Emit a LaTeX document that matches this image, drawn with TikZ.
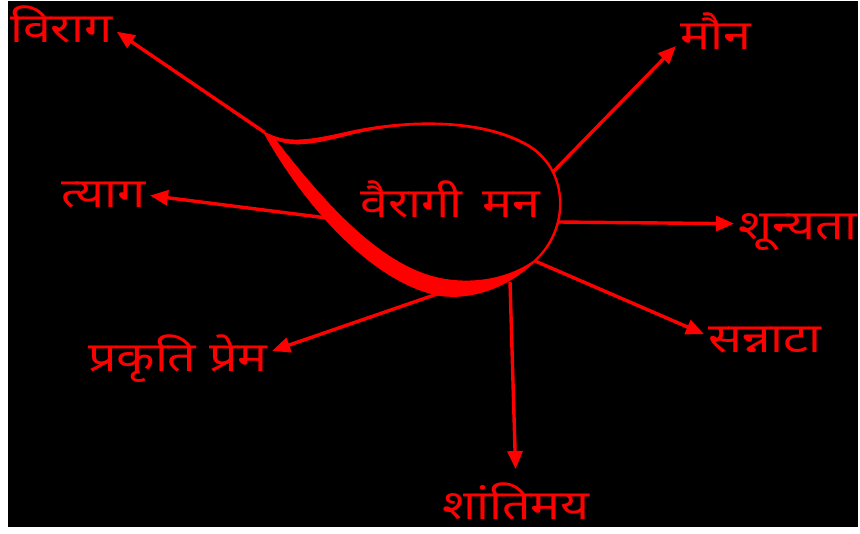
\documentclass[tikz,border=0pt]{standalone}
\usepackage{fontspec}
\newfontfamily\hindi[Script=Devanagari, FakeStretch=1.22]{Noto Sans}
\usetikzlibrary{arrows.meta}

\begin{document}
\begin{tikzpicture}[x=1pt, y=-1pt, >={Triangle[length=18pt,width=15pt]},
  lbl/.style={text=red, font=\hindi\fontsize{41}{44}\selectfont, inner sep=4pt, anchor=base west},
  edge/.style={->, line width=3.4pt, draw=red}
]
\useasboundingbox (0,0) rectangle (860,534);
\fill[white] (0,0) rectangle (860,534);
\fill[black] (8,1) rectangle (858,527);
\fill[red, even odd rule]
  (262,130) .. controls (285,145) and (310,140) .. (350,131)
  .. controls (400,120) and (480,115) .. (530,145)
  .. controls (570,170) and (572,230) .. (535,262)
  .. controls (505,290) and (470,300) .. (440,296)
  .. controls (370,283) and (300,200) .. (262,130) -- cycle
  (276,140) .. controls (294,148) and (315,144) .. (350,135)
  .. controls (400,122) and (478,118) .. (528,147)
  .. controls (568,171) and (569,229) .. (533,261)
  .. controls (505,280) and (470,284) .. (440,278)
  .. controls (382,266) and (326,205) .. (276,140) -- cycle;
\node[lbl] (mind) at (356,218) {वैरागी\, मन};
\node[lbl] (viraag) at (6,43) {विराग};
\node[lbl] (tyaag) at (57,208) {त्याग};
\node[lbl] (prakriti) at (84,372) {प्रकृति प्रेम};
\node[lbl] (shanti) at (438,520) {शांतिमय};
\node[lbl] (sannata) at (704,353) {सन्नाटा};
\node[lbl] (shunyata) at (734,240) {शून्यता};
\node[lbl] (maun) at (676,50) {मौन};
\coordinate (cv) at (264,132);
\coordinate (ct) at (327,218);
\coordinate (cp) at (443,292);
\coordinate (cs) at (510,282);
\coordinate (cn) at (535,261);
\coordinate (cu) at (558,222);
\coordinate (cm) at (553,172);
\draw[edge] (cv) -- (viraag.-7);
\draw[edge] (ct) -- (tyaag.east);
\draw[edge] (cp) -- (prakriti.5);
\draw[edge, shorten >=10pt] (cs) -- (shanti.north);
\draw[edge] (cn) -- (sannata.174);
\draw[edge] (cu) -- (shunyata.172);
\draw[edge] (cm) -- (maun.200);
\end{tikzpicture}
\end{document}
